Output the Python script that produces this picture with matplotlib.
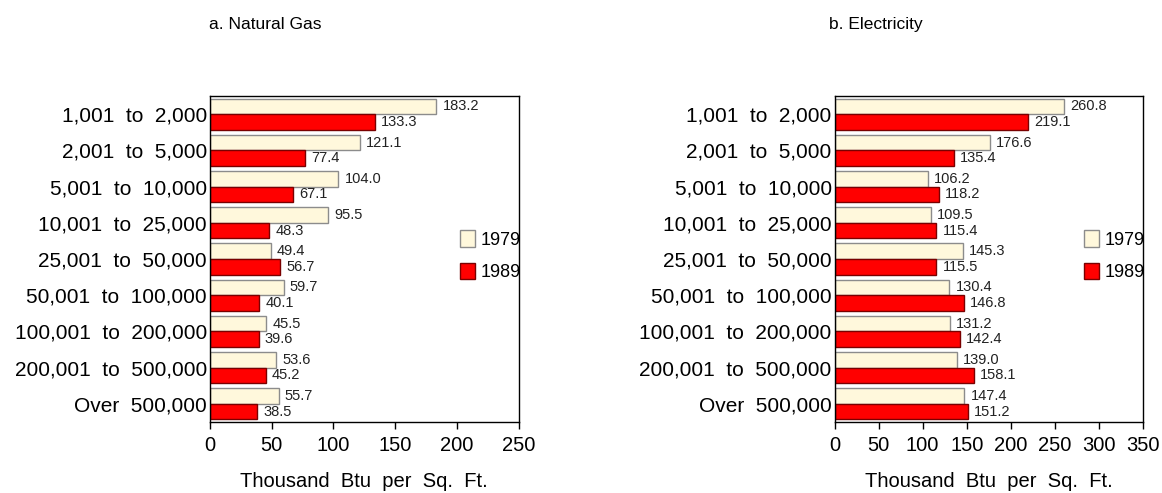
import numpy as np
import matplotlib.pyplot as plt

categories = ["1,001  to  2,000", "2,001  to  5,000", "5,001  to  10,000",
              "10,001  to  25,000", "25,001  to  50,000", "50,001  to  100,000",
              "100,001  to  200,000", "200,001  to  500,000", "Over  500,000"]
gas_1979 = [183.2, 121.1, 104.0, 95.5, 49.4, 59.7, 45.5, 53.6, 55.7]
gas_1989 = [133.3, 77.4, 67.1, 48.3, 56.7, 40.1, 39.6, 45.2, 38.5]
elec_1979 = [260.8, 176.6, 106.2, 109.5, 145.3, 130.4, 131.2, 139.0, 147.4]
elec_1989 = [219.1, 135.4, 118.2, 115.4, 115.5, 146.8, 142.4, 158.1, 151.2]

plt.rcParams['font.family'] = ['Liberation Sans', 'DejaVu Sans']

def panel(ax, v79, v89, xmax, title, title_x):
    y = np.arange(len(categories))
    h = 0.43
    ax.barh(y - h/2, v79, height=h, color='#fff8dc', edgecolor='#8c8c8c', linewidth=1, label='1979')
    ax.barh(y + h/2, v89, height=h, color='#ff0000', edgecolor='#7a0000', linewidth=1, label='1989')
    for i in range(len(categories)):
        ax.text(v79[i] + xmax*0.02, y[i] - h/2, f"{v79[i]:.1f}", va='center', ha='left',
                fontsize=10.5, color='#222222')
        ax.text(v89[i] + xmax*0.02, y[i] + h/2, f"{v89[i]:.1f}", va='center', ha='left',
                fontsize=10.5, color='#222222')
    ax.set_ylim(len(categories) - 0.5, -0.5)
    ax.set_xlim(0, xmax)
    ax.set_xticks(np.arange(0, xmax + 1, 50))
    ax.set_yticks(y)
    ax.set_yticklabels(categories)
    ax.tick_params(axis='y', length=0, pad=2, labelsize=15)
    ax.tick_params(axis='x', length=5, width=1, labelsize=14.5, pad=5)
    ax.set_xlabel("Thousand  Btu  per  Sq.  Ft.", fontsize=14.5, labelpad=12)
    for s in ax.spines.values():
        s.set_linewidth(1)
    ax.legend(loc='center left', bbox_to_anchor=(0.809, 0.51), frameon=False, fontsize=13,
              handlelength=0.85, handleheight=1.05, handletextpad=0.3, labelspacing=0.75,
              borderaxespad=0, borderpad=0)
    ax.figure.text(title_x, 0.95, title, ha='center', va='center', fontsize=12.5)

fig = plt.figure(figsize=(11.62, 4.93), dpi=100)
ax1 = fig.add_axes([209.7/1162, 1 - 422/493, 309.3/1162, 326/493])
ax2 = fig.add_axes([834.5/1162, 1 - 422/493, 308.5/1162, 326/493])
panel(ax1, gas_1979, gas_1989, 250, "a. Natural Gas", 265/1162)
panel(ax2, elec_1979, elec_1989, 350, "b. Electricity", 876/1162)
fig.savefig("out.png", dpi=100)
